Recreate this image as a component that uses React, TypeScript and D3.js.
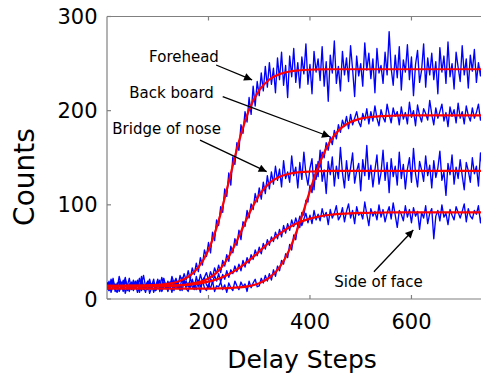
import * as d3 from 'd3';

// raw counts, one sample every 4 delay steps (0..740)
const STEP = 4;
const forehead = [
  18, 9, 21, 13, 16, 11, 24, 15, 8, 19, 14, 22, 10, 17, 12, 20, 7, 16, 25, 13,
  10, 18, 14, 21, 9, 17, 12, 23, 15, 11, 19, 13, 24, 17, 22, 14, 25, 18, 27, 20,
  30, 21, 33, 26, 38, 29, 44, 36, 52, 45, 60, 49, 71, 62, 84, 78, 98, 92, 117, 109,
  134, 121, 151, 143, 166, 158, 185, 176, 199, 188, 214, 196, 226, 205, 231, 216, 240, 221, 247, 225,
  251, 228, 245, 219, 256, 233, 262, 227, 248, 214, 258, 236, 266, 230, 251, 224, 257, 239, 271, 228,
  249, 218, 263, 241, 255, 232, 268, 226, 252, 210, 259, 240, 274, 229, 247, 221, 263, 238, 256, 231,
  269, 244, 215, 258, 237, 250, 226, 272, 243, 261, 234, 255, 219, 266, 240, 248, 229, 262, 238, 284,
  245, 227, 259, 235, 268, 222, 254, 241, 270, 233, 257, 216, 249, 264, 230, 243, 271, 225, 256, 238,
  261, 233, 252, 218, 267, 241, 258, 229, 273, 236, 250, 223, 262, 246, 231, 269, 238, 255, 224, 259,
  242, 265, 230, 251, 237, 255,
];
const backBoard = [
  12, 19, 7, 15, 10, 17, 8, 13, 20, 6, 14, 11, 18, 9, 16, 7, 13, 21, 10, 15,
  18, 6, 12, 16, 9, 14, 20, 8, 13, 17, 10, 15, 7, 19, 12, 16, 9, 14, 22, 11,
  8, 17, 13, 10, 18, 15, 7, 20, 12, 9, 16, 11, 19, 8, 14, 13, 18, 10, 15, 7,
  17, 12, 9, 19, 14, 10, 18, 13, 16, 8, 19, 12, 17, 21, 13, 14, 22, 17, 25, 19,
  27, 20, 31, 24, 35, 30, 41, 37, 48, 44, 58, 52, 68, 63, 79, 76, 92, 89, 105, 103,
  121, 113, 132, 127, 146, 140, 156, 150, 166, 158, 172, 164, 179, 170, 185, 177, 190, 183, 194, 181,
  196, 185, 192, 199, 188, 183, 197, 190, 202, 186, 199, 189, 205, 192, 184, 201, 193, 188, 207, 196,
  187, 203, 194, 199, 185, 204, 191, 198, 186, 209, 193, 200, 184, 206, 195, 188, 202, 197, 190, 211,
  196, 185, 203, 192, 199, 207, 189, 198, 183, 204, 194, 201, 187, 208, 192, 199, 186, 205, 195, 189,
  203, 192, 198, 207, 190, 197,
];
const bridgeOfNose = [
  10, 17, 13, 22, 8, 15, 19, 11, 14, 23, 9, 16, 12, 20, 14, 18, 11, 24, 13, 7,
  16, 21, 12, 17, 10, 19, 8, 15, 22, 13, 11, 18, 14, 9, 20, 16, 12, 23, 15, 19,
  13, 21, 17, 11, 24, 15, 26, 19, 23, 28, 20, 29, 23, 33, 27, 36, 28, 41, 35, 47,
  40, 56, 49, 64, 57, 73, 63, 82, 77, 94, 86, 101, 95, 112, 103, 118, 106, 124, 112, 131,
  117, 135, 122, 141, 126, 138, 119, 147, 128, 135, 124, 152, 131, 140, 118, 145, 127, 156, 133, 121,
  139, 149, 116, 143, 130, 158, 125, 137, 112, 146, 132, 151, 120, 141, 128, 161, 134, 118, 147, 126,
  139, 155, 123, 136, 144, 115, 148, 131, 163, 127, 142, 119, 137, 153, 122, 134, 158, 126, 145, 113,
  149, 130, 141, 121, 156, 128, 143, 117, 138, 150, 124, 160, 133, 119, 146, 137, 125, 152, 131, 142,
  118, 147, 129, 139, 157, 126, 135, 110, 144, 132, 153, 122, 140, 128, 148, 131, 116, 145, 136, 124,
  150, 133, 141, 120, 155, 138,
];
const sideOfFace = [
  16, 9, 14, 20, 11, 7, 15, 18, 12, 21, 13, 8, 17, 10, 19, 14, 22, 9, 15, 12,
  19, 11, 16, 7, 14, 21, 13, 10, 17, 15, 8, 16, 20, 12, 18, 11, 15, 9, 19, 13,
  17, 12, 21, 14, 10, 20, 13, 18, 23, 15, 12, 22, 17, 25, 19, 27, 18, 26, 21, 30,
  23, 31, 27, 35, 29, 37, 30, 41, 34, 44, 38, 47, 42, 52, 46, 55, 48, 59, 53, 63,
  57, 66, 61, 71, 64, 74, 66, 78, 70, 80, 73, 84, 77, 86, 79, 88, 78, 85, 91, 81,
  89, 80, 94, 84, 90, 83, 96, 87, 92, 79, 95, 86, 91, 99, 84, 88, 97, 82, 93, 101,
  86, 94, 80, 98, 89, 92, 85, 103, 90, 78, 96, 88, 93, 84, 100, 87, 95, 82, 91, 98,
  85, 102, 89, 76, 94, 90, 83, 99, 87, 95, 81, 97, 88, 93, 74, 92, 86, 99, 80, 91,
  96, 64, 88, 94, 83, 100, 87, 91, 79, 95, 89, 84, 98, 92, 86, 93, 101, 82, 96, 88,
  85, 94, 90, 99, 81, 93,
];

// fitted curves, one value every 20 delay steps (0..740)
const FIT_STEP = 20;
const fitForehead = [
  14, 14, 14.1, 14.2, 14.5, 15, 16.1, 18.5, 23.4, 33.5, 52.2, 83, 124.6, 167.2, 200.8, 221.7, 233.1, 238.8, 241.6, 242.9,
  243.5, 243.8, 244, 244, 244, 244, 244, 244, 244, 244, 244, 244, 244, 244, 244, 244, 244, 244,
];
const fitBackBoard = [
  11, 11, 11, 11, 11, 11, 11, 11, 11, 11, 11, 11.3, 11.6, 12.3, 13.7, 16.7, 22.6, 33.6, 53, 81.3,
  114.9, 145.5, 167.6, 180.9, 187.9, 191.5, 193.3, 194.2, 194.6, 195, 195, 195, 195, 195, 195, 195, 195, 195,
];
const fitBridgeOfNose = [
  14, 14, 14, 14, 14.1, 14.2, 14.3, 14.8, 15.7, 17.6, 21.8, 30.1, 44.9, 66.5, 90.5, 110.3, 123, 129.8, 133.1, 134.7,
  135.4, 135.7, 136, 136, 136, 136, 136, 136, 136, 136, 136, 136, 136, 136, 136, 136, 136, 136,
];
const fitSideOfFace = [
  13, 13.1, 13.1, 13.2, 13.3, 13.5, 13.8, 14.3, 15.1, 16.4, 18.5, 21.6, 26.3, 32.8, 41, 50.5, 60.3, 69.2, 76.4, 81.7,
  85.4, 87.9, 89.5, 90.4, 91, 91.4, 91.6, 91.8, 92, 92, 92, 92, 92, 92, 92, 92, 92, 92,
];

const rawSeries = [forehead, backBoard, bridgeOfNose, sideOfFace];
const fitSeries = [fitForehead, fitBackBoard, fitBridgeOfNose, fitSideOfFace];

const xTicks = [200, 400, 600];
const yTicks = [0, 100, 200, 300];

// labels: text anchor and arrow in data units (steps, counts)
const annotations = [
  { label: 'Forehead', at: [83, 252], from: [215, 248.5], to: [286, 232.6] },
  { label: 'Back board', at: [44, 213], from: [228, 214.8], to: [439.5, 172.3] },
  { label: 'Bridge of nose', at: [10.4, 174.9], from: [183.3, 168.8], to: [314.7, 135.2] },
  { label: 'Side of face', at: [448, 13], from: [526, 29], to: [603.7, 73.3] },
];

const FONT = 'DejaVu Sans, Verdana, sans-serif';

export default function App() {
  const w = 481, h = 377;
  const x = d3.scaleLinear().domain([0, 740]).range([107, 482.5]);
  const y = d3.scaleLinear().domain([0, 300]).range([299, 16.5]);
  const [x0, x1] = x.range();
  const [yb, yt] = y.range();

  const rawLine = d3.line<number>().x((_, i) => x(i * STEP)).y(d => y(d));
  const fitLine = d3.line<number>().x((_, i) => x(i * FIT_STEP)).y(d => y(d)).curve(d3.curveMonotoneX);

  const axisColor = '#808080';

  return (
    <div style={{ position: 'fixed', left: 0, top: 0 }}>
      <svg width={w} height={h} viewBox={`0 0 ${w} ${h}`} style={{ display: 'block', background: '#fff' }}>
        <defs>
          <clipPath id="plotClip">
            <rect x={x0} y={yt} width={x1 - x0} height={yb - yt} />
          </clipPath>
          <marker id="arrowHead" viewBox="0 0 10 10" refX="10" refY="5" markerWidth="11" markerHeight="8"
            markerUnits="userSpaceOnUse" orient="auto">
            <path d="M0,0 L10,5 L0,10 z" fill="#000" />
          </marker>
        </defs>

        {/* frame */}
        <g stroke={axisColor} strokeWidth={1.2} fill="none">
          <line x1={x0} x2={x1} y1={yb} y2={yb} />
          <line x1={x0} x2={x1} y1={yt} y2={yt} />
          <line x1={x0} x2={x0} y1={yt} y2={yb} />
          {xTicks.map(t => (
            <g key={t}>
              <line x1={x(t)} x2={x(t)} y1={yb} y2={yb - 4} />
              <line x1={x(t)} x2={x(t)} y1={yt} y2={yt + 4} />
            </g>
          ))}
          {yTicks.map(t => (
            <line key={t} x1={x0} x2={x0 + 4} y1={y(t)} y2={y(t)} />
          ))}
        </g>

        <g clipPath="url(#plotClip)">
          {rawSeries.map((s, i) => (
            <path key={i} d={rawLine(s) || ''} fill="none" stroke="#0000ff" strokeWidth={1.35} strokeLinejoin="round" />
          ))}
          {fitSeries.map((s, i) => (
            <path key={i} d={fitLine(s) || ''} fill="none" stroke="#ff0000" strokeWidth={2.2} />
          ))}
        </g>

        {/* tick labels */}
        <g fontFamily={FONT} fontSize={21} fill="#000">
          {xTicks.map(t => (
            <text key={t} x={x(t)} y={328.5} textAnchor="middle">{t}</text>
          ))}
          {yTicks.map(t => (
            <text key={t} x={97.5} y={y(t)} dy="0.36em" textAnchor="end">{t}</text>
          ))}
        </g>

        {/* axis titles */}
        <text x={302} y={368} textAnchor="middle" fontFamily={FONT} fontSize={25} fill="#000">Delay Steps</text>
        <text transform="translate(33.5,177) rotate(-90)" textAnchor="middle" fontFamily={FONT} fontSize={28} fill="#000">Counts</text>

        {/* annotations */}
        {annotations.map(a => (
          <g key={a.label}>
            <text x={x(a.at[0])} y={y(a.at[1])} fontFamily={FONT} fontSize={15} fill="#000">{a.label}</text>
            <line x1={x(a.from[0])} y1={y(a.from[1])} x2={x(a.to[0])} y2={y(a.to[1])}
              stroke="#000" strokeWidth={1.3} markerEnd="url(#arrowHead)" />
          </g>
        ))}
      </svg>
    </div>
  );
}
